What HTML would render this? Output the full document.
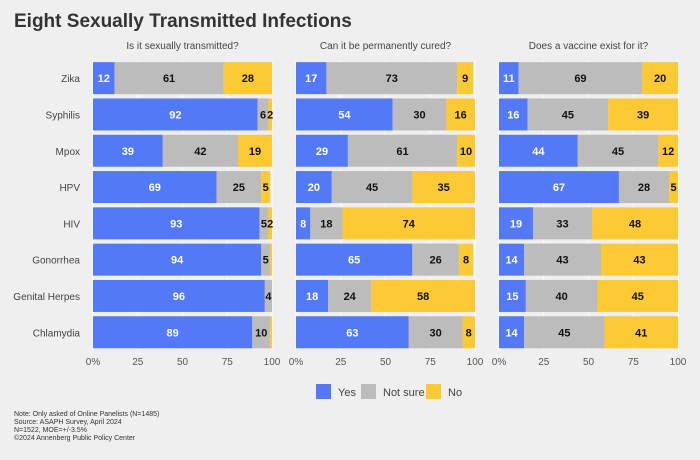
<!DOCTYPE html>
<html><head><meta charset="utf-8"><style>
body{margin:0;background:#efefef;font-family:"Liberation Sans",sans-serif;}
svg text{font-family:"Liberation Sans",sans-serif;}
</style></head><body>
<svg id="c" width="700" height="455" xmlns="http://www.w3.org/2000/svg">
<rect width="700" height="455" fill="#efefef"/>
<text x="14" y="27" font-size="19" font-weight="bold" fill="#333">Eight Sexually Transmitted Infections</text>
<g id="plot"></g>
<g>
<rect x="316" y="384" width="15" height="15" fill="#5479f7"/>
<text x="338" y="396" font-size="11" fill="#444">Yes</text>
<rect x="361" y="384" width="15" height="15" fill="#bcbcbc"/>
<text x="383" y="396" font-size="11" fill="#444">Not sure</text>
<rect x="426" y="384" width="15" height="15" fill="#fbc934"/>
<text x="448" y="396" font-size="11" fill="#444">No</text>
</g>
<g font-size="7" fill="#333">
<text x="14" y="416">Note: Only asked of Online Panelists (N=1485)</text>
<text x="14" y="424">Source: ASAPH Survey, April 2024</text>
<text x="14" y="432">N=1522, MOE=+/-3.5%</text>
<text x="14" y="440">©2024 Annenberg Public Policy Center</text>
</g>
</svg>
<script>
const categories=["Zika","Syphilis","Mpox","HPV","HIV","Gonorrhea","Genital Herpes","Chlamydia"];
const panelTitles=["Is it sexually transmitted?","Can it be permanently cured?","Does a vaccine exist for it?"];
const yes1=[12,92,39,69,93,94,96,89], notsure1=[61,6,42,25,5,5,4,10], no1=[28,2,19,5,2,1,0,1];
const yes2=[17,54,29,20,8,65,18,63], notsure2=[73,30,61,45,18,26,24,30], no2=[9,16,10,35,74,8,58,8];
const yes3=[11,16,44,67,19,14,15,14], notsure3=[69,45,45,28,33,43,40,45], no3=[20,39,12,5,48,43,45,41];
const ticks=[0,25,50,75,100];
const tickLabels=["0%","25","50","75","100"];
const series=[[yes1,notsure1,no1],[yes2,notsure2,no2],[yes3,notsure3,no3]];
const colors=["#5479f7","#bcbcbc","#fbc934"], textCol=["#fff","#111","#111"], snames=["yes","notsure","no"];
const panelX=[93,296,499], panelW=179, top0=60, step=36.3, barH=32;
const NS="http://www.w3.org/2000/svg", g=document.getElementById('plot');
function mk(t,a,p){const e=document.createElementNS(NS,t);for(const k in a)e.setAttribute(k,a[k]);(p||g).appendChild(e);return e;}
const yc=i=>top0+step*i+step/2;
categories.forEach((c,i)=>{
 const t=mk('text',{x:80,y:yc(i)+4,'text-anchor':'end','font-size':10,fill:'#444'});
 
 
 t.textContent=c;
});
series.forEach((ser,p)=>{
 const x0=panelX[p], xs=v=>x0+Math.min(v,100)/100*panelW;
 const tt=mk('text',{x:x0+panelW/2,y:49,'text-anchor':'middle','font-size':10,fill:'#444'});
 
 
 tt.textContent=panelTitles[p];
 ticks.forEach((v,k)=>{
  const l=mk('line',{x1:xs(v),x2:xs(v),y1:top0,y2:top0+step*8,stroke:'#fff','stroke-width':0.8});
  
  
  const tl=mk('text',{x:xs(v),y:365,'text-anchor':'middle','font-size':10,fill:'#555'});
  
  
  tl.textContent=tickLabels[k];
 });
 categories.forEach((c,i)=>{
  let cum=0;
  ser.forEach((arr,s)=>{
   const v=arr[i]; if(v<=0)return;
   const a=xs(cum), b=xs(cum+v);
   const r=mk('rect',{x:a,y:yc(i)-barH/2,width:Math.max(0,b-a),height:barH,fill:colors[s]});
   
   
   if(v>=2){
    const t=mk('text',{x:(a+b)/2,y:yc(i)+4,'text-anchor':'middle','font-size':11,'font-weight':'bold',fill:textCol[s]});
    
    
    t.textContent=v;
   }
   cum+=v;
  });
 });
});
</script>
</body></html>
